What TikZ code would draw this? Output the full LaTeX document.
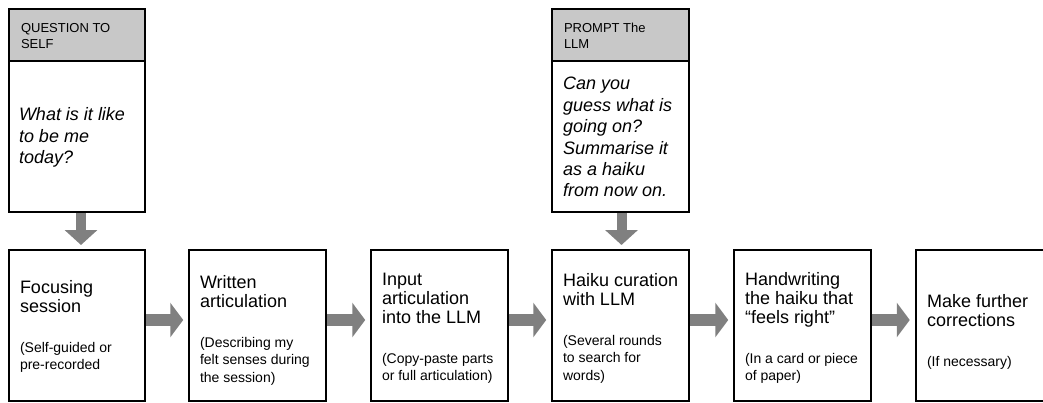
\documentclass[tikz,border=0pt]{standalone}
\usepackage{fontspec}
\setmainfont{Liberation Sans}
\usetikzlibrary{arrows.meta,calc}
\definecolor{hdrgray}{HTML}{C8C8C8}
\definecolor{arrgray}{HTML}{808080}
\newcommand{\flowtext}[2]{\parbox[t]{125pt}{\raggedright\fontsize{18}{19}\selectfont #1\par\vspace{22.5pt}\fontsize{14}{17.5}\selectfont #2\par}}
\newcommand{\hdrtext}[1]{\parbox[t]{125pt}{\raggedright\fontsize{13}{16.5}\selectfont #1\par}}
\newcommand{\bodytext}[1]{\parbox[t]{128pt}{\raggedright\fontsize{18}{21.4}\selectfont\itshape #1\par}}
\begin{document}
\begin{tikzpicture}[x=1pt,y=1pt,
  stepbox/.style={draw=black, line width=2pt, minimum width=136.5pt, minimum height=151pt, inner sep=0pt, outer sep=0pt},
  hdr/.style={draw=black, line width=2pt, fill=hdrgray, minimum width=136.5pt, minimum height=52pt, inner sep=0pt, outer sep=0pt},
  qbodybox/.style={draw=black, line width=2pt, minimum width=136.5pt, minimum height=151pt, inner sep=0pt, outer sep=0pt},
  txt/.style={anchor=base west, inner sep=0pt, outer sep=0pt},
  flowarrow/.style={draw=arrgray, line width=12pt, -{Triangle[length=13pt,width=34pt]}, shorten >=6pt, shorten <=1pt},
  downarrow/.style={draw=arrgray, line width=10pt, -{Triangle[length=15pt,width=32pt]}, shorten >=5pt, shorten <=1pt}
]
\useasboundingbox (0,0) rectangle (1043,402);

% top boxes
\node[hdr] (qhead) at (77,367) {};
\node[qbodybox] (qbody) at (77,265.5) {};
\node[hdr] (phead) at (620.5,367) {};
\node[qbodybox] (pbody) at (620.5,265.5) {};

\node[txt] (qheadtxt) at (21,369.7) {\hdrtext{QUESTION TO\\SELF}};
\node[txt] (pheadtxt) at (564,369.7) {\hdrtext{PROMPT The\\LLM}};
\node[txt] (qbodytxt) at (19,281.3) {\bodytext{What is it like\\to be me\\today?}};
\node[txt] (pbodytxt) at (563,312) {\bodytext{Can you\\guess what is\\going on?\\Summarise it\\as a haiku\\from now on.}};

% bottom boxes
\node[stepbox] (b1) at (77,76.5) {};
\node[stepbox] (b2) at (257.5,76.5) {};
\node[stepbox] (b3) at (439.5,76.5) {};
\node[stepbox] (b4) at (620.5,76.5) {};
\node[stepbox] (b5) at (802.5,76.5) {};
\node[stepbox] (b6) at (984,76.5) {};

\node[txt] (t1) at (20,109) {\flowtext{Focusing\\session}{(Self-guided or\\pre-recorded}};
\node[txt] (t2) at (200,114) {\flowtext{Written\\articulation}{(Describing my\\felt senses during\\the session)}};
\node[txt] (t3) at (382,117) {\flowtext{Input\\articulation\\into the LLM}{(Copy-paste parts\\or full articulation)}};
\node[txt] (t4) at (563,116) {\flowtext{Haiku curation\\with LLM}{(Several rounds\\to search for\\words)}};
\node[txt] (t5) at (745,117) {\flowtext{Handwriting\\the haiku that\\“feels right”}{(In a card or piece\\of paper)}};
\node[txt] (t6) at (927,95) {\flowtext{Make further\\corrections}{(If necessary)}};

% arrows
\draw[downarrow] ([xshift=4pt]qbody.south) -- ([xshift=4pt]b1.north);
\draw[downarrow] ([xshift=1pt]pbody.south) -- ([xshift=1pt]b4.north);
\draw[flowarrow] ([yshift=5.5pt]b1.east) -- ([yshift=5.5pt]b2.west);
\draw[flowarrow] ([yshift=5.5pt]b2.east) -- ([yshift=5.5pt]b3.west);
\draw[flowarrow] ([yshift=5.5pt]b3.east) -- ([yshift=5.5pt]b4.west);
\draw[flowarrow] ([yshift=5.5pt]b4.east) -- ([yshift=5.5pt]b5.west);
\draw[flowarrow] ([yshift=5.5pt]b5.east) -- ([yshift=5.5pt]b6.west);
\end{tikzpicture}
\end{document}
